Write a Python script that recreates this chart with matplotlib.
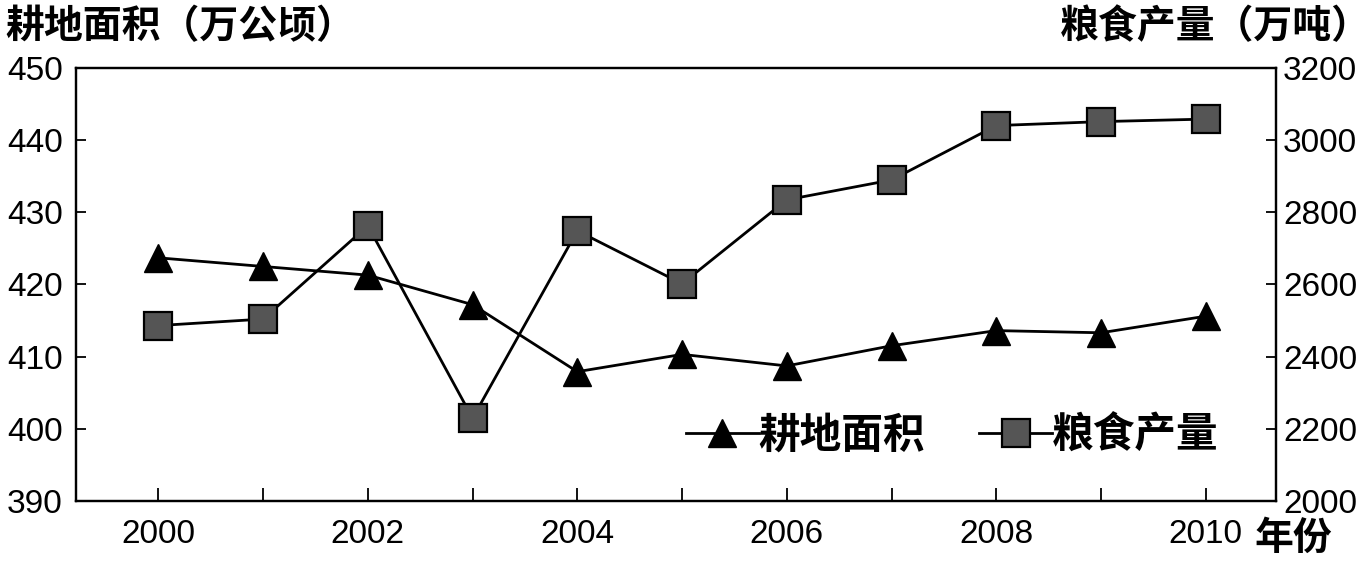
import matplotlib
matplotlib.use('Agg')
import matplotlib.pyplot as plt

# data
years = [2000, 2001, 2002, 2003, 2004, 2005, 2006, 2007, 2008, 2009, 2010]
land = [423.7, 422.5, 421.3, 417.2, 407.9, 410.3, 408.7, 411.5, 413.6, 413.3, 415.6]   # 万公顷
grain = [2486, 2504, 2763, 2229, 2749, 2602, 2835, 2890, 3041, 3052, 3059]         # 万吨

left_ticks = [390, 400, 410, 420, 430, 440, 450]
right_ticks = [2000, 2200, 2400, 2600, 2800, 3000, 3200]
year_labels = ['2000', '', '2002', '', '2004', '', '2006', '', '2008', '', '2010']

num_font = ['Liberation Sans', 'DejaVu Sans']
cjk_font = ['Noto Sans CJK SC', 'DejaVu Sans']

fig = plt.figure(figsize=(13.7, 5.7), dpi=100)
ax = fig.add_axes([0.0555, 0.1216, 0.9314 - 0.0555, 0.8802 - 0.1216])
ax2 = ax.twinx()

l1, = ax.plot(years, land, color='black', lw=2, marker='^', ms=20,
              mfc='black', mec='black', label='耕地面积')
l2, = ax2.plot(years, grain, color='black', lw=2, marker='s', ms=20,
               mfc='#555555', mec='black', mew=1.6, label='粮食产量')

ax.set_xlim(1999.214, 2010.671)
ax.set_ylim(390, 450)
ax2.set_ylim(2000, 3200)
ax.set_xticks(years)
ax.set_xticklabels(year_labels)
ax.set_yticks(left_ticks)
ax2.set_yticks(right_ticks)

for a in (ax, ax2):
    for s in a.spines.values():
        s.set_linewidth(1.6)
        s.set_color('black')

ax.tick_params(axis='x', direction='in', length=9.5, width=1.3, pad=13, labelsize=24)
ax.tick_params(axis='y', direction='in', length=7, width=1.3, pad=9.5, labelsize=24)
ax2.tick_params(axis='y', direction='in', length=7, width=1.3, pad=5, labelsize=24)
for lab in ax.get_xticklabels() + ax.get_yticklabels() + ax2.get_yticklabels():
    lab.set_family(num_font)

fig.text(5 / 1370, 0.954, '耕地面积（万公顷）', family=cjk_font, fontweight='bold',
         fontsize=28, ha='left', va='center')
fig.text(1060 / 1370, 0.954, '粮食产量（万吨）', family=cjk_font, fontweight='bold',
         fontsize=28, ha='left', va='center')
fig.text(1255 / 1370, 0.056, '年份', family=cjk_font, fontweight='bold',
         fontsize=28, ha='left', va='center')

leg = ax2.legend(handles=[l1, l2], loc='center', bbox_to_anchor=(0.695, 0.235),
                 bbox_transform=fig.transFigure, ncol=2, frameon=False,
                 handlelength=1.75, handletextpad=0.0, columnspacing=1.3,
                 prop={'family': cjk_font, 'weight': 'bold', 'size': 30})

fig.savefig('out.png', dpi=100)
